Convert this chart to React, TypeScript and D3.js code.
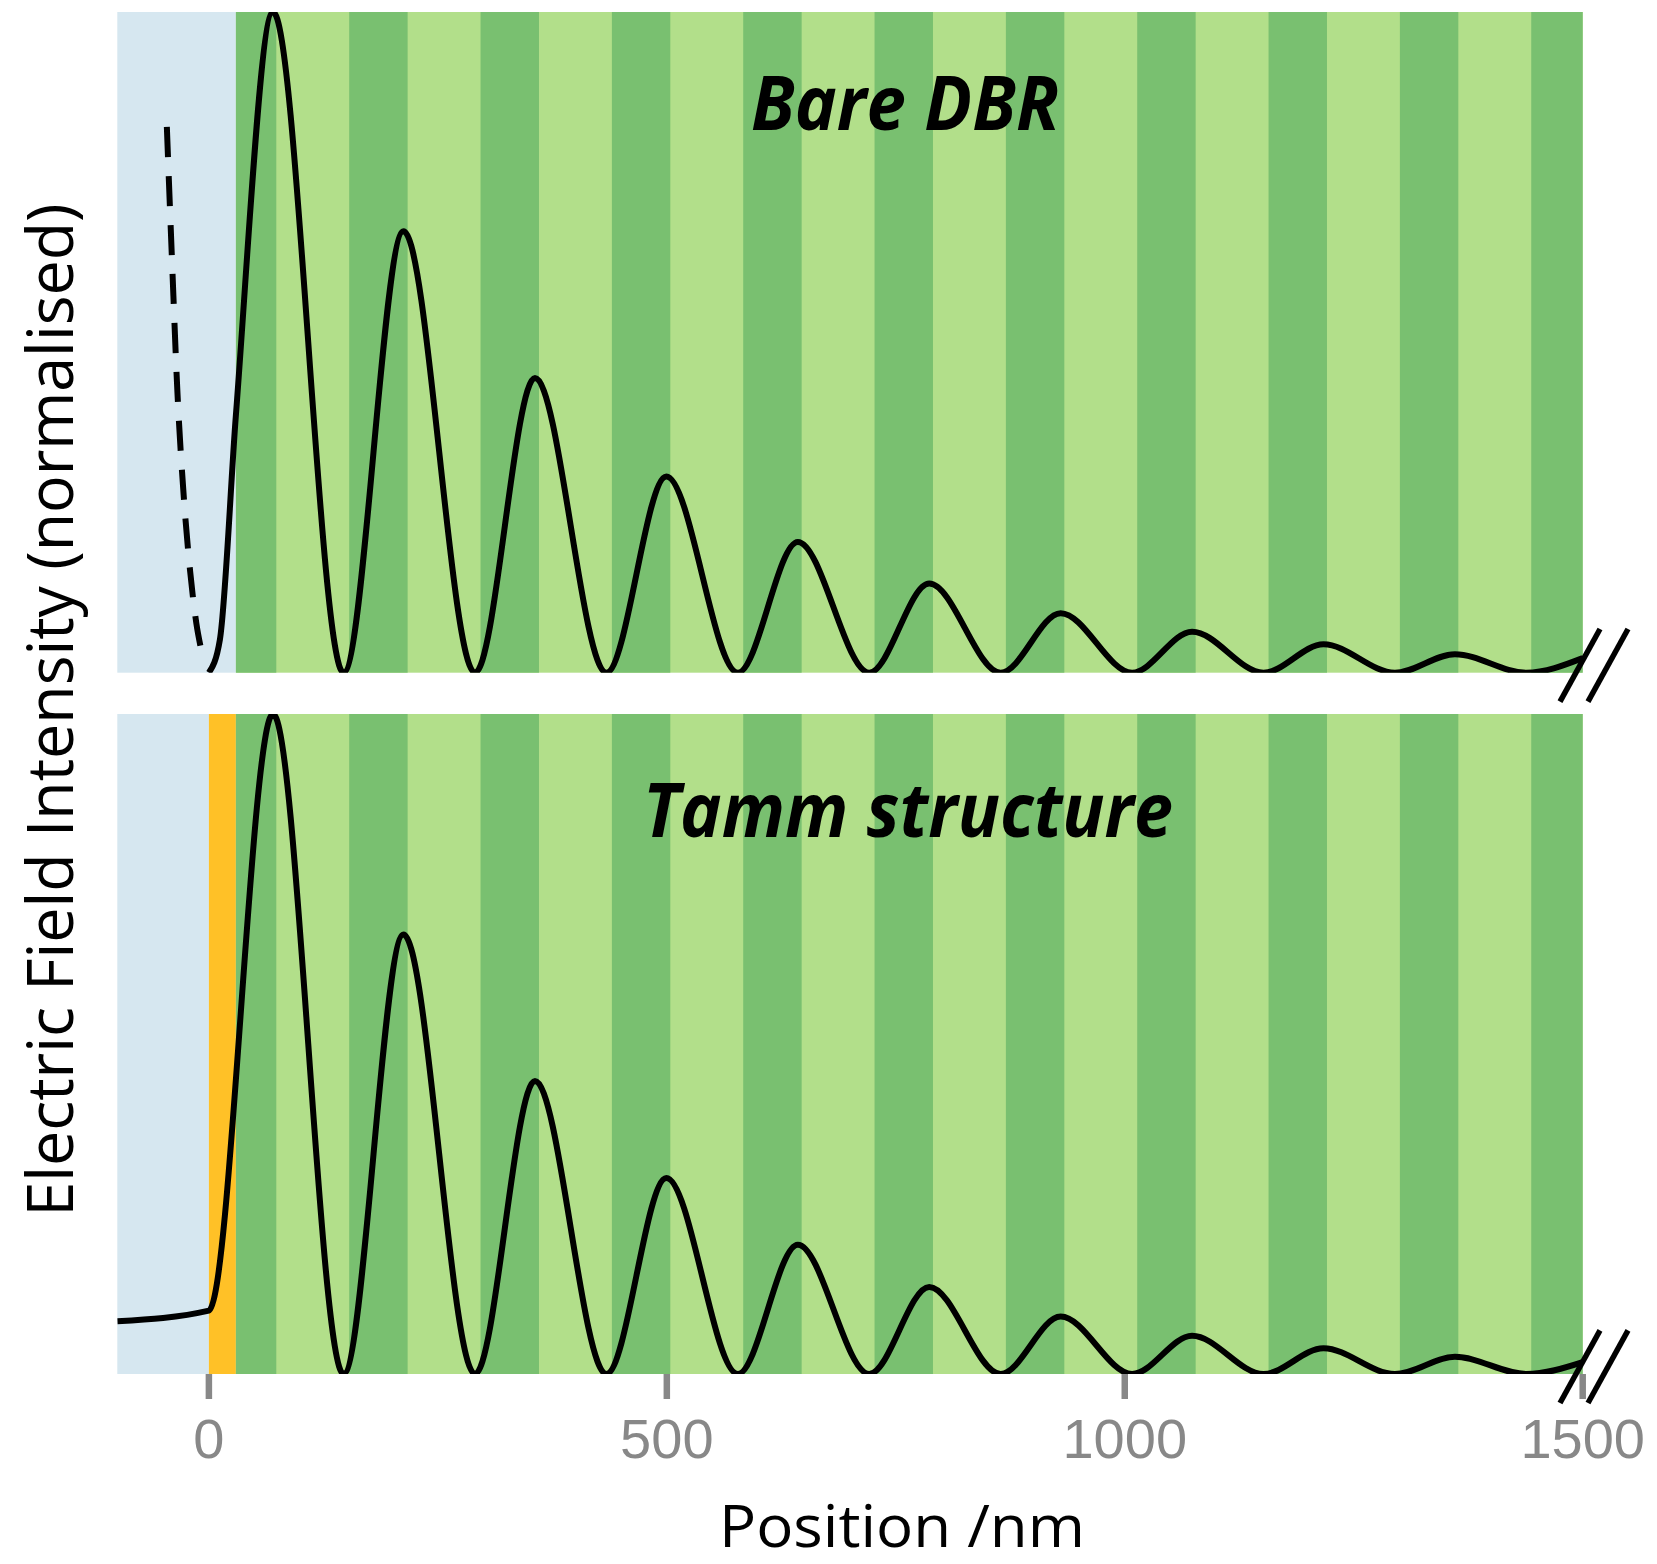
import React from "react";
import * as d3 from "d3";

// ---------- data ----------
const xTicks = [0, 500, 1000, 1500];
const xDomain = [-100, 1500];

// DBR high-index (dark) layers, nm
const darkStarts = [29.5, 153.2, 296.6, 440.0, 583.4, 726.8, 870.2, 1013.6, 1157.0, 1300.4, 1443.8];
const darkEnds = [73.6, 217.0, 360.4, 503.8, 647.2, 790.6, 934.0, 1077.4, 1220.8, 1364.2, 1500];
const dbrStart = 29.5;
const dbrEnd = 1500;
const metalStart = 0;
const metalEnd = 29.5;

// Bare DBR field intensity (position nm, normalised intensity)
const bareX = [0, 12, 29.5, 70, 147, 212.5, 290.5, 356, 434, 499.5, 577.5, 643, 721, 786.5, 864.5, 930, 1008, 1073.5, 1151.5, 1217, 1295, 1360.5, 1438.5, 1500];
const bareI = [0, 0.05, 0.39, 1.0, 0, 0.668, 0, 0.446, 0, 0.297, 0, 0.198, 0, 0.135, 0, 0.09, 0, 0.062, 0, 0.043, 0, 0.028, 0, 0.022];

// incident (dashed) curve in top panel
const dashX = [-45.9, -40.1, -34.4, -27.4, -20.5, -13.6, -9.0];
const dashI = [0.826, 0.618, 0.426, 0.266, 0.154, 0.074, 0.039];

// Tamm structure field intensity
const tammX = [-100, 0, 70, 147, 212.5, 290.5, 356, 434, 499.5, 577.5, 643, 721, 786.5, 864.5, 930, 1008, 1073.5, 1151.5, 1217, 1295, 1360.5, 1438.5, 1500];
const tammI = [0.08, 0.096, 1.0, 0, 0.666, 0, 0.444, 0, 0.297, 0, 0.196, 0, 0.132, 0, 0.087, 0, 0.058, 0, 0.039, 0, 0.026, 0, 0.018];

const titles = ["Bare DBR", "Tamm structure"];

// ---------- styles ----------
const C_AIR = "#d6e7f0";
const C_LIGHT = "#b2df8a";
const C_DARK = "#79c070";
const C_METAL = "#ffc127";
const C_TICK = "#888888";
const FONT = "'Open Sans', 'Noto Sans', sans-serif";

const W = 1657;
const H = 1564;
const X0 = 117.3;
const X1 = 1582.7;
const panels = [
  { top: 12, bottom: 672.7 },
  { top: 714, bottom: 1374 },
];

export default function App() {
  const x = d3.scaleLinear().domain(xDomain).range([X0, X1]);

  const renderPanel = (pi: number) => {
    const p = panels[pi];
    const y = d3.scaleLinear().domain([0, 1]).range([p.bottom, p.top]);
    const line = d3
      .line<[number, number]>()
      .x((d) => x(d[0]))
      .y((d) => y(d[1]))
      .curve(d3.curveMonotoneX);
    const xs = pi === 0 ? bareX : tammX;
    const is = pi === 0 ? bareI : tammI;
    const pts = xs.map((v, i) => [v, is[i]] as [number, number]);
    const dashPts = dashX.map((v, i) => [v, dashI[i]] as [number, number]);
    const clipId = `clip${pi}`;
    const airEnd = pi === 0 ? dbrStart : metalStart;
    return (
      <g key={pi}>
        <defs>
          <clipPath id={clipId}>
            <rect x={X0} y={p.top} width={X1 - X0} height={p.bottom - p.top} />
          </clipPath>
        </defs>
        <rect x={x(xDomain[0])} y={p.top} width={x(airEnd) - x(xDomain[0])} height={p.bottom - p.top} fill={C_AIR} />
        {pi === 1 && (
          <rect x={x(metalStart)} y={p.top} width={x(metalEnd) - x(metalStart)} height={p.bottom - p.top} fill={C_METAL} />
        )}
        <rect x={x(dbrStart)} y={p.top} width={x(dbrEnd) - x(dbrStart)} height={p.bottom - p.top} fill={C_LIGHT} />
        {darkStarts.map((s, i) => (
          <rect key={i} x={x(s)} y={p.top} width={x(darkEnds[i]) - x(s)} height={p.bottom - p.top} fill={C_DARK} />
        ))}
        <g clipPath={`url(#${clipId})`}>
          <path d={line(pts) || ""} fill="none" stroke="#000" strokeWidth={6} strokeLinejoin="round" />
          {pi === 0 && (
            <path d={line(dashPts) || ""} fill="none" stroke="#000" strokeWidth={6} strokeDasharray="30,19" />
          )}
        </g>
        {/* axis break marks */}
        {[0, 28].map((dx) => (
          <line
            key={dx}
            x1={x(dbrEnd) - 22.7 + dx}
            y1={p.bottom + 29}
            x2={x(dbrEnd) + 17.3 + dx}
            y2={p.bottom - 43.7}
            stroke="#000"
            strokeWidth={5.5}
          />
        ))}
      </g>
    );
  };

  const bottom = panels[1].bottom;

  return (
    <svg width={W} height={H} style={{ position: "absolute", left: 0, top: 0, background: "#fff" }}>
      {renderPanel(0)}
      {renderPanel(1)}
      {/* titles */}
      <text
        x={751}
        y={130}
        fontFamily={FONT}
        fontWeight="bold"
        fontStyle="italic"
        fontSize={76}
        textLength={308}
        lengthAdjust="spacingAndGlyphs"
        fill="#000"
      >
        {titles[0]}
      </text>
      <text
        x={643}
        y={837}
        fontFamily={FONT}
        fontWeight="bold"
        fontStyle="italic"
        fontSize={76}
        textLength={530}
        lengthAdjust="spacingAndGlyphs"
        fill="#000"
      >
        {titles[1]}
      </text>
      {/* x axis */}
      {xTicks.map((t) => (
        <g key={t}>
          <line x1={x(t)} x2={x(t)} y1={bottom} y2={bottom + 25} stroke={C_TICK} strokeWidth={6.5} />
          <text
            x={x(t)}
            y={1458}
            textAnchor="middle"
            fontFamily="'Liberation Sans', Arial, sans-serif"
            fontSize={56}
            fill={C_TICK}
          >
            {t}
          </text>
        </g>
      ))}
      <text
        x={719}
        y={1547}
        fontFamily={FONT}
        fontSize={59}
        textLength={366}
        lengthAdjust="spacingAndGlyphs"
        fill="#000"
      >
        Position /nm
      </text>
      <text
        transform="translate(73,710) rotate(-90)"
        textAnchor="middle"
        fontFamily={FONT}
        fontSize={64}
        textLength={1013}
        lengthAdjust="spacingAndGlyphs"
        fill="#000"
      >
        Electric Field Intensity (normalised)
      </text>
    </svg>
  );
}
